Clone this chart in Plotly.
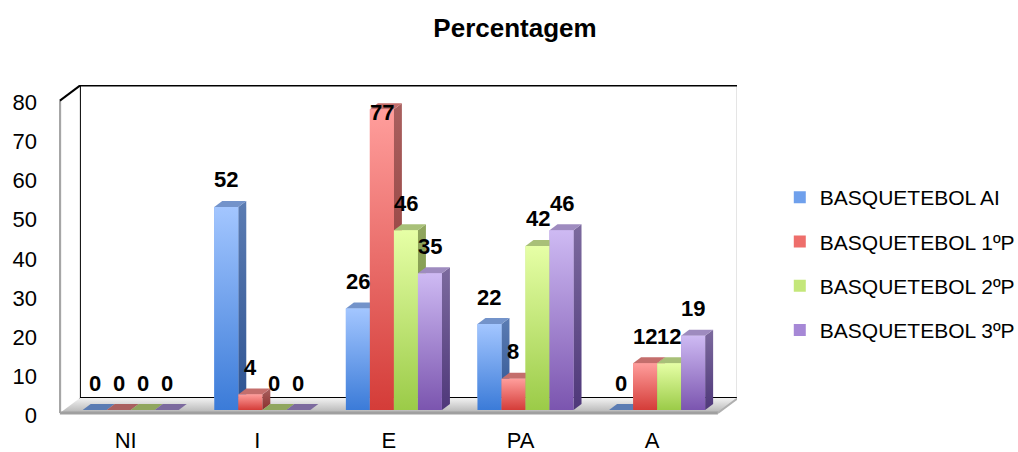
import plotly.graph_objects as go

# ---- data -------------------------------------------------------------
categories = ["NI", "I", "E", "PA", "A"]
series_names = ["BASQUETEBOL AI", "BASQUETEBOL 1ºP", "BASQUETEBOL 2ºP", "BASQUETEBOL 3ºP"]
ai_values = [0, 52, 26, 22, 0]
p1_values = [0, 4, 77, 8, 12]
p2_values = [0, 0, 46, 42, 12]
p3_values = [0, 0, 35, 46, 19]
y_ticks = [0, 10, 20, 30, 40, 50, 60, 70, 80]

series_values = [ai_values, p1_values, p2_values, p3_values]

# ---- styling ----------------------------------------------------------
palette = [
    dict(mid="#6FA0EC", front_top="#A3C6FF", front_bottom="#3B7BD8",
         top="#7393CA", side_top="#5B7CB3", side_bottom="#2E5391"),
    dict(mid="#EE6E6B", front_top="#FF9E9C", front_bottom="#D43C38",
         top="#C46E6C", side_top="#A9605F", side_bottom="#8A2F2C"),
    dict(mid="#C4E77A", front_top="#E6FFA6", front_bottom="#9BCB48",
         top="#A8C078", side_top="#90A65E", side_bottom="#6E8C36"),
    dict(mid="#A688D6", front_top="#CEBAF3", front_bottom="#7B55AF",
         top="#9E8BBF", side_top="#7C6A9E", side_bottom="#4F387A"),
]
FONT = "Liberation Sans, Arial, sans-serif"

# ---- geometry (pixels) ------------------------------------------------
W, H = 1018, 452
PLOT_L, PLOT_R, PLOT_T, PLOT_B = 59, 737, 85, 416
PXX = 131.6      # pixels per category step
PXY = 3.905      # pixels per percentage point
X0_PX = 130.7    # screen x of the first category centre
Y0_PX = 410      # screen y of value 0
x_range = [(PLOT_L - X0_PX) / PXX, (PLOT_R - X0_PX) / PXX]
y_range = [(Y0_PX - PLOT_B) / PXY, (Y0_PX - PLOT_T) / PXY]

BAR_GAP = 0.27
BW = (1 - BAR_GAP) / 4          # width of one bar in category units
BAR_DEPTH = (8, 6)              # screen offset (right, up) of a bar's back face
FRONT_OFF = (-5, -3)            # front plane relative to bar plane (right, up)
BACK_OFF = (15, 12)             # back wall relative to bar plane (right, up)
LABEL_LIFT = 27                 # px between bar top and label centre
LABEL_CAP = 76.3                # highest label centre inside the plot


def shift(x, y, off):
    return x + off[0] / PXX, y + off[1] / PXY


fig = go.Figure()
shapes = []


def poly_path(pts):
    return "M " + " L ".join(f"{x:.5f},{y:.5f}" for x, y in pts) + " Z"


x_lo, x_hi = -0.5, len(categories) - 0.5
y_top = y_ticks[-1]

# back wall
bw = [shift(x_lo, 0, BACK_OFF), shift(x_hi, 0, BACK_OFF),
      shift(x_hi, y_top, BACK_OFF), shift(x_lo, y_top, BACK_OFF)]
shapes.append(dict(type="path", path=poly_path(bw), xref="x", yref="y", layer="below",
                   fillcolor="white", line=dict(color="black", width=2)))
# left wall
lw = [shift(x_lo, 0, FRONT_OFF), shift(x_lo, y_top, FRONT_OFF),
      shift(x_lo, y_top, BACK_OFF), shift(x_lo, 0, BACK_OFF)]
shapes.append(dict(type="path", path=poly_path(lw), xref="x", yref="y", layer="below",
                   fillcolor="white", line=dict(width=0)))
# floor
fl = [shift(x_lo, 0, FRONT_OFF), shift(x_hi, 0, FRONT_OFF),
      shift(x_hi, 0, BACK_OFF), shift(x_lo, 0, BACK_OFF)]
fig.add_trace(go.Scatter(
    x=[p[0] for p in fl] + [fl[0][0]], y=[p[1] for p in fl] + [fl[0][1]],
    mode="lines", fill="toself", line=dict(width=0, color="rgba(0,0,0,0)"),
    fillgradient=dict(type="vertical", colorscale=[[0, "#B4B4B4"], [1, "#F2F2F2"]]),
    hoverinfo="skip", showlegend=False))

# edges of the walls and floor
fx0, fy0 = shift(x_lo, 0, FRONT_OFF)
fx1, fy1 = shift(x_lo, y_top, FRONT_OFF)
bx1, by1 = shift(x_lo, y_top, BACK_OFF)
rx0, ry0 = shift(x_hi, 0, FRONT_OFF)
rx1, ry1 = shift(x_hi, 0, BACK_OFF)
edge_lines = [
    ((fx0, fy0), (fx1, fy1), "#A6A6A6", 2.5),
    ((fx1, fy1), (bx1, by1), "black", 2),
    ((fx0, fy0), (rx0, ry0), "#A0A0A0", 3),
    ((rx0, ry0), (rx1, ry1), "#B0B0B0", 2),
]

# ---- bars -------------------------------------------------------------
for j, (name, vals) in enumerate(zip(series_names, series_values)):
    fig.add_trace(go.Bar(
        x=list(range(len(categories))), y=vals, name=name, legendgroup=name,
        marker=dict(color=palette[j]["mid"], line=dict(width=0)),
        hoverinfo="skip"))

ddx, ddy = BAR_DEPTH[0] / PXX, BAR_DEPTH[1] / PXY


def face(pts, color=None, grad=None):
    xs = [p[0] for p in pts] + [pts[0][0]]
    ys = [p[1] for p in pts] + [pts[0][1]]
    kw = dict(x=xs, y=ys, mode="lines", fill="toself",
              line=dict(width=0, color="rgba(0,0,0,0)"),
              hoverinfo="skip", showlegend=False)
    if grad:
        kw["fillgradient"] = dict(type="vertical", colorscale=[[0, grad[0]], [1, grad[1]]])
    else:
        kw["fillcolor"] = color
    fig.add_trace(go.Scatter(**kw))


annotations = []
for i in range(len(categories)):
    for j, vals in enumerate(series_values):
        v = vals[i]
        c = palette[j]
        xc = i + (j - 1.5) * BW
        x0, x1 = xc - BW / 2, xc + BW / 2
        if v > 0:
            face([(x1, 0), (x1 + ddx, ddy), (x1 + ddx, v + ddy), (x1, v)],
                 grad=(c["side_bottom"], c["side_top"]))
        face([(x0, v), (x1, v), (x1 + ddx, v + ddy), (x0 + ddx, v + ddy)],
             color=c["top"] if v > 0 else c["side_top"])
        if v > 0:
            face([(x0, 0), (x1, 0), (x1, v), (x0, v)],
                 grad=(c["front_bottom"], c["front_top"]))
        annotations.append(dict(
            x=xc, y=min(v + LABEL_LIFT / PXY, LABEL_CAP), text=str(v),
            showarrow=False, xanchor="center", yanchor="middle",
            font=dict(family=FONT, size=22, color="black", weight=700)))

for (a, b, col, wd) in edge_lines:
    shapes.append(dict(type="line", x0=a[0], y0=a[1], x1=b[0], y1=b[1],
                       xref="x", yref="y", layer="above",
                       line=dict(color=col, width=wd)))

fig.update_layout(
    width=W, height=H, autosize=False,
    margin=dict(l=PLOT_L, r=W - PLOT_R, t=PLOT_T, b=H - PLOT_B, pad=0, autoexpand=False),
    paper_bgcolor="white", plot_bgcolor="rgba(0,0,0,0)",
    barmode="group", bargap=BAR_GAP, bargroupgap=0,
    font=dict(family=FONT, color="black"),
    title=dict(text="Percentagem", x=515 / W, y=1 - 28 / H, xref="container", yref="container",
               xanchor="center", yanchor="middle", automargin=False,
               font=dict(family=FONT, size=26, color="black", weight=700)),
    xaxis=dict(range=x_range, tickmode="array", tickvals=list(range(len(categories))),
               ticktext=categories, showgrid=False, zeroline=False, showline=False,
               ticks="", tickfont=dict(size=22), ticklabelshift=-5, ticklabelstandoff=9,
               automargin=False, fixedrange=True),
    yaxis=dict(range=y_range, tickmode="array", tickvals=y_ticks, showgrid=False,
               zeroline=False, showline=False, ticks="", tickfont=dict(size=22),
               ticklabelshift=5, ticklabelstandoff=21, automargin=False, fixedrange=True),
    legend=dict(x=0.766, y=1 - 177 / H, xref="container", yref="container",
                xanchor="left", yanchor="top", font=dict(size=21),
                tracegroupgap=14, bgcolor="rgba(0,0,0,0)"),
    shapes=shapes, annotations=annotations,
)

fig.write_html("out.html")
